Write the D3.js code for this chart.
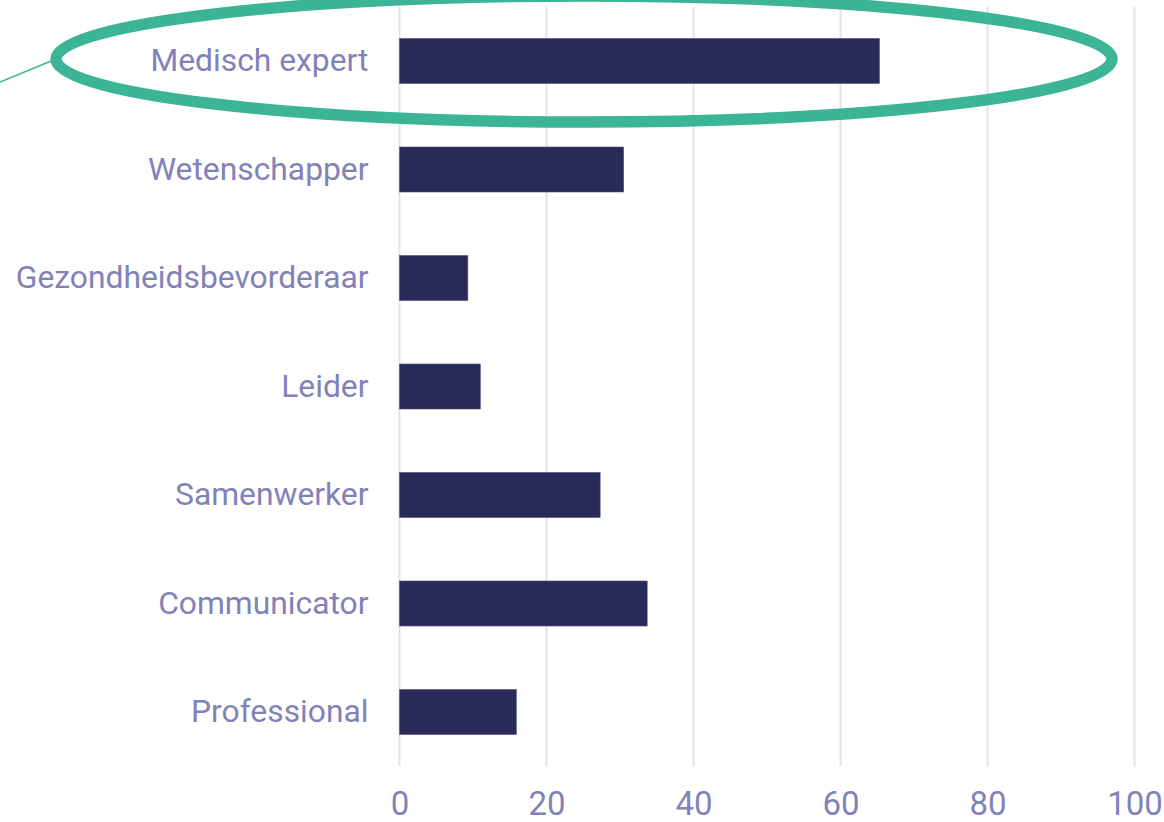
<!DOCTYPE html>
<html>
<head>
<meta charset="utf-8">
<script src="https://cdn.jsdelivr.net/npm/d3@7"></script>
<style>
  html, body { margin: 0; padding: 0; background: #ffffff; }
  svg { display: block; }
  text { font-family: Roboto, "Noto Sans", sans-serif; }
</style>
</head>
<body>
<svg id="chart" width="1164" height="822"></svg>
<script>
// Roles and their scores
const categories = [
  "Medisch expert",
  "Wetenschapper",
  "Gezondheidsbevorderaar",
  "Leider",
  "Samenwerker",
  "Communicator",
  "Professional"
];
const values = [65.3, 30.5, 9.3, 11.0, 27.3, 33.7, 15.9];
const xTicks = [0, 20, 40, 60, 80, 100];
const highlighted = "Medisch expert";

const svg = d3.select("#chart");

const x = d3.scaleLinear().domain([0, 100]).range([399.5, 1134.5]);
const y = d3.scaleBand().domain(categories).range([6.75, 766.25]).paddingInner(0.585).paddingOuter(0.2925);

const textColor = "#8282b8";
const barColor = "#2a2a59";
const gridColor = "#e2e2ef";
const accent = "#3bb596";

// vertical gridlines
svg.append("g")
  .selectAll("line")
  .data(xTicks)
  .join("line")
  .attr("x1", d => x(d)).attr("x2", d => x(d))
  .attr("y1", 6.75).attr("y2", 766.25)
  .attr("stroke", gridColor)
  .attr("stroke-width", 2);

// bottom axis labels
const xAxis = d3.axisBottom(x).tickValues(xTicks).tickSize(0).tickPadding(0);
const gx = svg.append("g").attr("transform", "translate(0,792)").call(xAxis);
gx.select(".domain").remove();
gx.selectAll("text")
  .attr("fill", textColor)
  .attr("font-size", 33)
  .attr("dy", "0.71em")
  .attr("font-family", "Roboto, sans-serif");

// bars
svg.append("g")
  .selectAll("rect")
  .data(categories)
  .join("rect")
  .attr("x", x(0))
  .attr("y", d => y(d))
  .attr("width", (d, i) => x(values[i]) - x(0))
  .attr("height", y.bandwidth())
  .attr("fill", barColor)
  .attr("stroke", "#55557f")
  .attr("stroke-width", 0.6);

// category labels
const yAxis = d3.axisLeft(y).tickSize(0).tickPadding(31);
const gy = svg.append("g").attr("transform", `translate(${x(0)},0)`).call(yAxis);
gy.select(".domain").remove();
gy.selectAll("text")
  .attr("fill", textColor)
  .attr("font-size", 31.8)
  .attr("font-family", "Roboto, sans-serif");

// highlight ring around the top role
const cy = y(highlighted) + y.bandwidth() / 2 - 2;
svg.append("ellipse")
  .attr("cx", 584)
  .attr("cy", cy)
  .attr("rx", 528)
  .attr("ry", 63)
  .attr("fill", "none")
  .attr("stroke", accent)
  .attr("stroke-width", 11.5);

svg.append("line")
  .attr("x1", 0).attr("y1", 82)
  .attr("x2", 56).attr("y2", cy)
  .attr("stroke", accent)
  .attr("stroke-width", 1.5);
</script>
</body>
</html>
